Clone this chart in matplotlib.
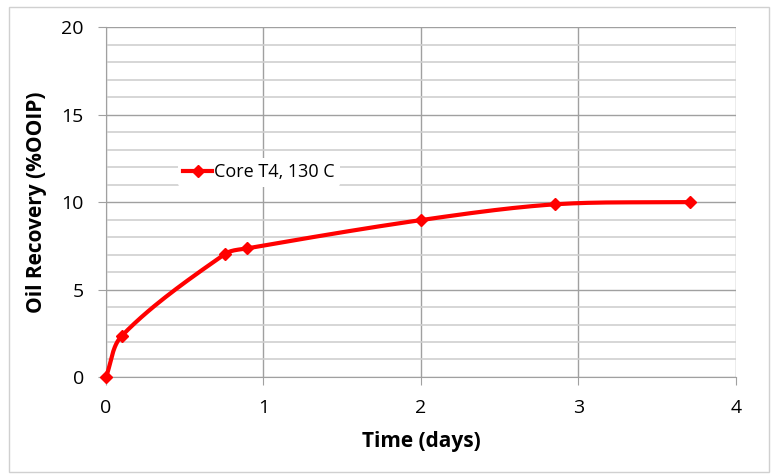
import numpy as np
import matplotlib.pyplot as plt
from matplotlib.patches import Rectangle

#### data
time_days = [0.0, 0.10, 0.755, 0.895, 2.0, 2.85, 3.71]
recovery = [0.0, 2.35, 7.03, 7.35, 8.97, 9.87, 10.0]
series_name = 'Core T4, 130 C'

#### smoothed line (bezier through the points, tangents weighted by segment length)
def smooth(xs, ys, sx=157.5, sy=17.5, n=30):
   p = np.column_stack([xs, ys])
   q = p*[sx, sy]
   m = len(p)
   tang = np.zeros_like(p)
   for i in range(m):
      if i == 0:
         tang[i] = p[1]-p[0]
      elif i == m-1:
         tang[i] = p[-1]-p[-2]
      else:
         d0 = np.hypot(*(q[i]-q[i-1]))
         d1 = np.hypot(*(q[i+1]-q[i]))
         tang[i] = (p[i+1]-p[i-1])/(d0+d1)
   out = []
   for i in range(m-1):
      d = np.hypot(*(q[i+1]-q[i]))
      if i == 0:
         t1 = tang[0]/3
      else:
         t1 = tang[i]*d/3
      if i == m-2:
         t2 = tang[-1]/3
      else:
         t2 = tang[i+1]*d/3
      b1 = p[i]+t1
      b2 = p[i+1]-t2
      t = np.linspace(0, 1, n)[:, None]
      seg = (1-t)**3*p[i] + 3*(1-t)**2*t*b1 + 3*(1-t)*t**2*b2 + t**3*p[i+1]
      out.append(seg)
   out = np.vstack(out)
   return out[:, 0], out[:, 1]

plt.rcParams['font.family'] = ['Open Sans', 'DejaVu Sans']

fig = plt.figure(figsize=(7.71, 4.76), dpi=100)
ax = fig.add_axes([0.1375, 0.208, 0.817, 0.735])

fig.patches.append(Rectangle((0.012, 0.008), 0.985, 0.978, transform=fig.transFigure,
                             fill=False, edgecolor='#d0d0d0', linewidth=1))

sx, sy = smooth(time_days, recovery)
ax.plot(sx, sy, color='#ff0000', linewidth=3, solid_capstyle='round', zorder=3, clip_on=False)
ax.plot(time_days, recovery, linestyle='none', marker='D', markersize=6,
        color='#ff0000', zorder=4, clip_on=False)
ax.plot([], [], color='#ff0000', linewidth=3, marker='D', markersize=6, label=series_name)

ax.set_xlim(0, 4)
ax.set_ylim(0, 20)
ax.set_xticks(np.arange(0, 5, 1))
ax.set_yticks(np.arange(0, 25, 5))
ax.set_yticks(np.arange(0, 21, 1), minor=True)
ax.grid(which='major', color='#a0a0a0', linewidth=1)
ax.grid(which='minor', axis='y', color='#d0d0d0', linewidth=1.2)
ax.tick_params(which='major', length=6, color='#a0a0a0', labelsize=14, pad=10)
ax.tick_params(which='minor', length=0)
for s in ax.spines.values():
   s.set_visible(False)
ax.spines['left'].set_visible(True)
ax.spines['left'].set_color('#a0a0a0')
ax.spines['bottom'].set_visible(True)
ax.spines['bottom'].set_color('#a0a0a0')

ax.set_xlabel('Time (days)', fontsize=15, fontweight='bold', labelpad=10)
ax.set_ylabel('Oil Recovery (%OOIP)', fontsize=15, fontweight='bold', labelpad=10)

leg = ax.legend(loc='center left', bbox_to_anchor=(0.1, 0.585), frameon=True,
                fontsize=13, handlelength=1.6, handletextpad=0.1, borderpad=0.3)
leg.get_frame().set_edgecolor('none')
leg.get_frame().set_facecolor('white')
leg.get_frame().set_alpha(1)

plt.savefig('out.png', dpi=100)
